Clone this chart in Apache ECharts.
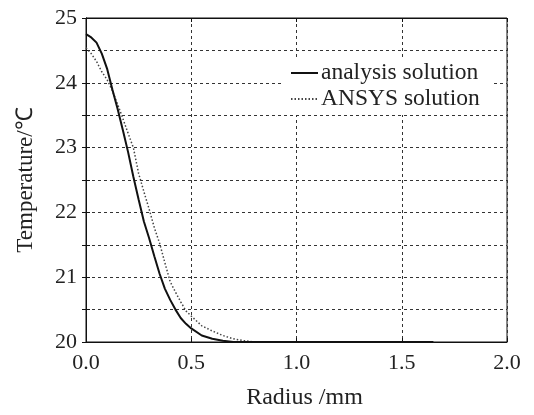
<!DOCTYPE html>
<html>
<head>
<meta charset="utf-8">
<script src="https://cdn.jsdelivr.net/npm/echarts@6/dist/echarts.min.js"></script>
<style>html,body{margin:0;padding:0;background:#fff;}#c{width:534px;height:415px;}</style>
</head>
<body>
<div id="c"></div>
<script>
var xTicks = [0, 0.5, 1.0, 1.5, 2.0];
var yTicks = [20, 21, 22, 23, 24, 25];

var radiusA = [0, 0.025, 0.05, 0.075, 0.1, 0.125, 0.15, 0.175, 0.2, 0.225, 0.25, 0.275, 0.3, 0.325, 0.35, 0.375, 0.4, 0.425, 0.45, 0.475, 0.5, 0.55, 0.6, 0.65, 0.7, 0.8, 1.0, 1.2, 1.4, 1.65];
var tempA = [24.75, 24.70, 24.62, 24.45, 24.22, 23.90, 23.60, 23.27, 22.93, 22.55, 22.20, 21.86, 21.60, 21.32, 21.05, 20.82, 20.65, 20.50, 20.37, 20.28, 20.21, 20.10, 20.05, 20.02, 20.00, 20.00, 20.00, 20.00, 20.00, 20.00];

var radiusB = [0, 0.025, 0.05, 0.075, 0.1, 0.125, 0.15, 0.175, 0.2, 0.225, 0.25, 0.275, 0.3, 0.325, 0.35, 0.375, 0.4, 0.425, 0.45, 0.475, 0.5, 0.55, 0.6, 0.65, 0.7, 0.75, 0.8, 1.0, 1.2, 1.4, 1.65];
var tempB = [24.54, 24.45, 24.33, 24.17, 24.05, 23.88, 23.67, 23.45, 23.22, 23.00, 22.60, 22.32, 22.05, 21.76, 21.52, 21.22, 20.93, 20.77, 20.62, 20.48, 20.40, 20.25, 20.17, 20.10, 20.05, 20.02, 20.00, 20.00, 20.00, 20.00, 20.00];

function pairs(xs, ys) { return xs.map(function (x, i) { return [x, ys[i]]; }); }

var font = "'Liberation Serif', 'Times New Roman', serif";
var chart = echarts.init(document.getElementById('c'), null, {renderer: 'canvas'});
var splitStyle = {show: true, lineStyle: {color: '#333', type: [3, 3], width: 1}};
chart.setOption({
  animation: false,
  backgroundColor: '#fff',
  grid: {left: 86, right: 27, top: 18, bottom: 67, show: true, borderColor: '#111', borderWidth: 1, containLabel: false},
  legend: {
    orient: 'vertical', left: 283, top: 57,
    padding: [4, 12, 4, 7],
    backgroundColor: '#fff',
    itemWidth: 27, itemHeight: 16, itemGap: 2,
    itemStyle: {opacity: 0, borderWidth: 0},
    textStyle: {fontFamily: font, fontSize: 23.5, color: '#222', padding: [0, 0, 0, -2]},
    data: ['analysis solution', 'ANSYS solution']
  },
  xAxis: [{
    type: 'value', min: 0, max: 2, interval: 0.5,
    name: 'Radius /mm', nameLocation: 'middle', nameGap: 44,
    nameTextStyle: {fontFamily: font, fontSize: 24, color: '#222', padding: [0, 0, 0, 16]},
    axisLine: {show: true, onZero: false, lineStyle: {color: '#111', width: 1}},
    axisTick: {show: true, inside: true, length: 4, lineStyle: {color: '#111'}},
    axisLabel: {margin: 10, fontFamily: font, fontSize: 22, color: '#222', formatter: function (v) { return xTicks.indexOf(v) >= 0 ? v.toFixed(1) : ''; }},
    splitLine: splitStyle
  }, {
    type: 'value', min: 0, max: 2, interval: 0.5, position: 'top',
    axisLine: {show: true, lineStyle: {color: '#111'}},
    axisTick: {show: true, inside: true, length: 4, lineStyle: {color: '#111'}},
    axisLabel: {show: false}, splitLine: {show: false}
  }],
  yAxis: [{
    type: 'value', min: 20, max: 25, interval: 0.5,
    name: 'Temperature/℃', nameLocation: 'middle', nameGap: 49, nameRotate: 90,
    nameTextStyle: {fontFamily: font, fontSize: 23, color: '#222'},
    axisLine: {show: true, onZero: false, lineStyle: {color: '#111', width: 1}},
    axisTick: {show: true, inside: true, length: 4, lineStyle: {color: '#111'}},
    axisLabel: {margin: 9, fontFamily: font, fontSize: 22, color: '#222', formatter: function (v) { return yTicks.indexOf(v) >= 0 ? String(v) : ''; }},
    splitLine: splitStyle
  }, {
    type: 'value', min: 20, max: 25, interval: 0.5, position: 'right',
    axisLine: {show: true, lineStyle: {color: '#111'}},
    axisTick: {show: true, inside: true, length: 4, lineStyle: {color: '#111'}},
    axisLabel: {show: false}, splitLine: {show: false}
  }],
  series: [{
    name: 'analysis solution', type: 'line', symbol: 'none', smooth: false,
    data: pairs(radiusA, tempA), z: 3,
    lineStyle: {color: '#111', width: 2, type: 'solid'},
    itemStyle: {color: '#111'}
  }, {
    name: 'ANSYS solution', type: 'line', symbol: 'none', smooth: false,
    data: pairs(radiusB, tempB), z: 2,
    lineStyle: {color: '#444', width: 1.5, type: [1.5, 2]},
    itemStyle: {color: '#444'}
  }]
});
</script>
</body>
</html>
